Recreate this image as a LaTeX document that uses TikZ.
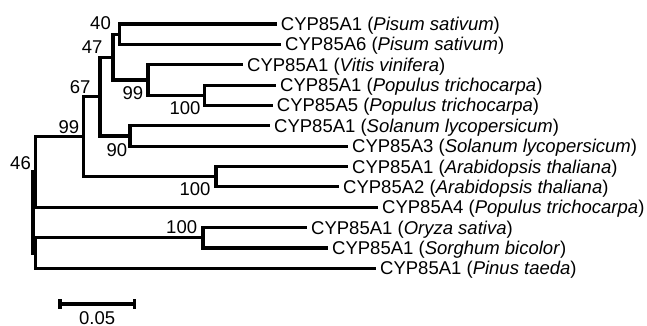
\documentclass[tikz,border=0pt]{standalone}
\usepackage{fontspec}
\setmainfont{Liberation Sans}
\begin{document}
\begin{tikzpicture}[x=1pt,y=-1pt,
  branch/.style={line width=3.1pt, line join=miter},
  leaf/.style={anchor=base west, inner sep=0pt, xshift=4pt, yshift=-6.6pt,
               font=\fontsize{18.5}{21}\selectfont},
  boot/.style={anchor=base east, inner sep=0pt, yshift=-6.6pt,
               font=\fontsize{18.5}{21}\selectfont},
  scalebar/.style={line width=3.1pt}]
\useasboundingbox (0,0) rectangle (647,326);

% tips of the terminal branches
\coordinate (e1)  at (276.7,24.0);
\coordinate (e2)  at (281.0,44.4);
\coordinate (e3)  at (243.0,64.7);
\coordinate (e4)  at (276.0,85.1);
\coordinate (e5)  at (272.7,105.4);
\coordinate (e6)  at (270.0,125.8);
\coordinate (e7)  at (348.0,146.2);
\coordinate (e8)  at (348.0,166.5);
\coordinate (e9)  at (339.0,186.9);
\coordinate (e10) at (378.0,207.2);
\coordinate (e11) at (307.0,227.6);
\coordinate (e12) at (328.0,248.0);
\coordinate (e13) at (376.0,268.3);

% internal nodes (x = depth, y = midpoint of the children)
\coordinate (nA)   at (119.3,34.2);
\coordinate (nB)   at (204.3,95.25);
\coordinate (nC)   at (148.0,80.0);
\coordinate (nD)   at (113.0,57.1);
\coordinate (nE)   at (130.0,136.0);
\coordinate (nF)   at (100.0,96.55);
\coordinate (nG)   at (216.0,176.7);
\coordinate (nH)   at (83.3,136.6);
\coordinate (nI)   at (35.7,171.9);
\coordinate (nJ)   at (203.0,237.8);
\coordinate (nK)   at (35.7,253.05);
\coordinate (root) at (33.0,212.5);

% branches
\draw[branch] (nA) |- (e1);  \draw[branch] (nA) |- (e2);
\draw[branch] (nB) |- (e4);  \draw[branch] (nB) |- (e5);
\draw[branch] (nC) |- (e3);  \draw[branch] (nC) |- (nB);
\draw[branch] (nD) |- (nA);  \draw[branch] (nD) |- (nC);
\draw[branch] (nE) |- (e6);  \draw[branch] (nE) |- (e7);
\draw[branch] (nF) |- (nD);  \draw[branch] (nF) |- (nE);
\draw[branch] (nG) |- (e8);  \draw[branch] (nG) |- (e9);
\draw[branch] (nH) |- (nF);  \draw[branch] (nH) |- (nG);
\draw[branch] (nI) |- (nH);  \draw[branch] (nI) |- (e10);
\draw[branch] (nJ) |- (e11); \draw[branch] (nJ) |- (e12);
\draw[branch] (nK) |- (nJ);  \draw[branch] (nK) |- (e13);
\draw[branch] (root) |- (nI); \draw[branch] (root) |- (nK);

% taxon labels
\node[leaf] (t1)  at (e1)  {CYP85A1 (\textit{Pisum sativum})};
\node[leaf] (t2)  at (e2)  {CYP85A6 (\textit{Pisum sativum})};
\node[leaf] (t3)  at (e3)  {CYP85A1 (\textit{Vitis vinifera})};
\node[leaf] (t4)  at (e4)  {CYP85A1 (\textit{Populus trichocarpa})};
\node[leaf] (t5)  at (e5)  {CYP85A5 (\textit{Populus trichocarpa})};
\node[leaf] (t6)  at (e6)  {CYP85A1 (\textit{Solanum lycopersicum})};
\node[leaf] (t7)  at (e7)  {CYP85A3 (\textit{Solanum lycopersicum})};
\node[leaf] (t8)  at (e8)  {CYP85A1 (\textit{Arabidopsis thaliana})};
\node[leaf] (t9)  at (e9)  {CYP85A2 (\textit{Arabidopsis thaliana})};
\node[leaf] (t10) at (e10) {CYP85A4 (\textit{Populus trichocarpa})};
\node[leaf] (t11) at (e11) {CYP85A1 (\textit{Oryza sativa})};
\node[leaf] (t12) at (e12) {CYP85A1 (\textit{Sorghum bicolor})};
\node[leaf] (t13) at (e13) {CYP85A1 (\textit{Pinus taeda})};

% bootstrap support values
\node[boot] (bA) at (111.0,23.3)  {40};
\node[boot] (bD) at (102.7,46.7)  {47};
\node[boot] (bC) at (143.3,93.3)  {99};
\node[boot] (bB) at (200.7,108.3) {100};
\node[boot] (bF) at (90.7,86.7)   {67};
\node[boot] (bE) at (127.3,150.0) {90};
\node[boot] (bH) at (79.3,126.7)  {99};
\node[boot] (bR) at (31.0,162.5)  {46};
\node[boot] (bG) at (210.7,189.3) {100};
\node[boot] (bJ) at (197.3,227.3) {100};

% scale bar
\coordinate (sL) at (60.0,304.0);
\coordinate (sR) at (134.3,304.0);
\draw[scalebar] (sL) -- (sR);
\draw[scalebar] ([yshift=5pt]sL) -- ([yshift=-5pt]sL);
\draw[scalebar] ([yshift=5pt]sR) -- ([yshift=-5pt]sR);
\node[anchor=base, inner sep=0pt, yshift=-6.6pt, font=\fontsize{18.5}{21}\selectfont]
  (sT) at (97.2,317.6) {0.05};
\end{tikzpicture}
\end{document}
